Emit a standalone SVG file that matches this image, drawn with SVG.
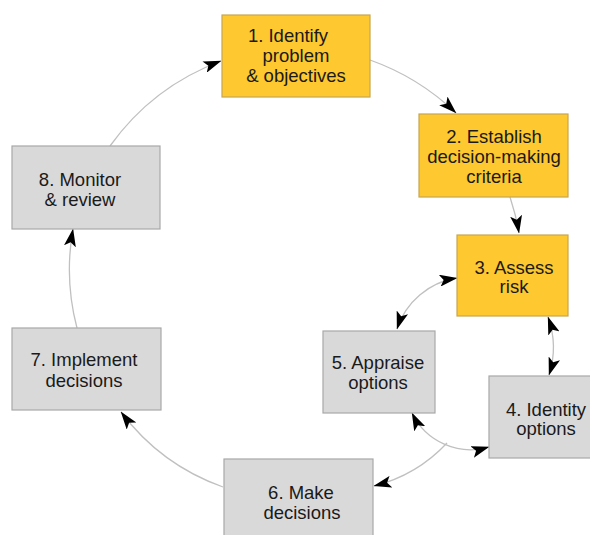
<svg xmlns="http://www.w3.org/2000/svg" width="590" height="535" viewBox="0 0 590 535">
<style>
  .y { fill: #FDC830; stroke: #C9A64E; stroke-width: 1.2; }
  .g { fill: #D9D9D9; stroke: #A8A8A8; stroke-width: 1.2; }
  text { font-family: "Liberation Sans", Arial, sans-serif; font-size: 18.5px; fill: #1A1A1A; text-anchor: middle; }
  .c { fill: none; stroke: #C0C0C0; stroke-width: 1.3; }
</style>
<defs>
  <marker id="ah" viewBox="0 0 18 12" refX="17.5" refY="6" markerWidth="18" markerHeight="12" orient="auto-start-reverse" markerUnits="userSpaceOnUse">
    <path d="M0,0 L18,6 L0,12 L4,6 z" fill="#000"/>
  </marker>
</defs>
<rect width="590" height="535" fill="#fff"/>
<g id="connectors">
  <path class="c" d="M110,146 A240,240 0 0 1 221,61" marker-end="url(#ah)"/>
  <path class="c" d="M370,60 A240,240 0 0 1 456,113" marker-end="url(#ah)"/>
  <path class="c" d="M510,197 A240,240 0 0 1 519,233" marker-end="url(#ah)"/>
  <path class="c" d="M457,278 A75,75 0 0 0 397,329" marker-start="url(#ah)" marker-end="url(#ah)"/>
  <path class="c" d="M548,317 A90,90 0 0 1 549,375" marker-start="url(#ah)" marker-end="url(#ah)"/>
  <path class="c" d="M412,413 A65,65 0 0 0 489,447" marker-start="url(#ah)" marker-end="url(#ah)"/>
  <path class="c" d="M447,443 A150,150 0 0 1 374,486" marker-end="url(#ah)"/>
  <path class="c" d="M223,487 A220,220 0 0 1 121,412" marker-end="url(#ah)"/>
  <path class="c" d="M77,328 A230,230 0 0 1 73,229" marker-end="url(#ah)"/>
</g>
<g id="node1">
  <rect class="y" x="222" y="15" width="148" height="82"/>
  <text x="288" y="42">1. Identify</text>
  <text x="296" y="62">problem</text>
  <text x="296" y="82">&amp; objectives</text>
</g>
<g id="node2">
  <rect class="y" x="419" y="114" width="149" height="83"/>
  <text x="494" y="143">2. Establish</text>
  <text x="494" y="163">decision-making</text>
  <text x="494" y="183">criteria</text>
</g>
<g id="node3">
  <rect class="y" x="457" y="235" width="111" height="81"/>
  <text x="514" y="274">3. Assess</text>
  <text x="514" y="293">risk</text>
</g>
<g id="node4">
  <rect class="g" x="489" y="376" width="116" height="82"/>
  <text x="546" y="416">4. Identity</text>
  <text x="546" y="435">options</text>
</g>
<g id="node5">
  <rect class="g" x="323" y="331" width="112" height="82"/>
  <text x="378" y="369">5. Appraise</text>
  <text x="378" y="389">options</text>
</g>
<g id="node6">
  <rect class="g" x="224" y="459" width="149" height="90"/>
  <text x="301" y="499">6. Make</text>
  <text x="302" y="519">decisions</text>
</g>
<g id="node7">
  <rect class="g" x="12" y="328" width="149" height="82"/>
  <text x="84" y="366">7. Implement</text>
  <text x="84" y="387">decisions</text>
</g>
<g id="node8">
  <rect class="g" x="12" y="146" width="148" height="83"/>
  <text x="80" y="186">8. Monitor</text>
  <text x="80" y="206">&amp; review</text>
</g>
</svg>
